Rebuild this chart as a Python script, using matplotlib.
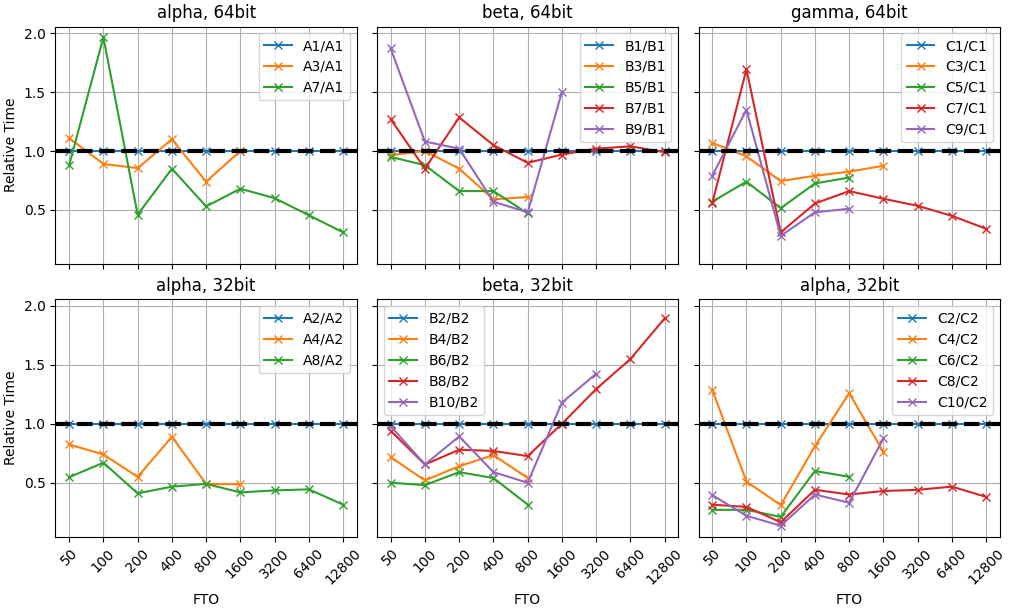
import numpy as np
import matplotlib.pyplot as plt

fto = ["50", "100", "200", "400", "800", "1600", "3200", "6400", "12800"]

# alpha, 64bit
a1 = [1.0] * 9
a3 = [1.11, 0.89, 0.855, 1.10, 0.74, 1.0]
a7 = [0.88, 1.965, 0.46, 0.85, 0.53, 0.68, 0.60, 0.455, 0.31]

# beta, 64bit
b1 = [1.0] * 9
b3 = [0.965, 1.0, 0.85, 0.59, 0.61]
b5 = [0.95, 0.88, 0.66, 0.66, 0.47]
b7 = [1.27, 0.85, 1.285, 1.05, 0.90, 0.97, 1.02, 1.04, 0.99]
b9 = [1.87, 1.08, 1.02, 0.57, 0.48, 1.50]

# gamma, 64bit
c1 = [1.0] * 9
c3 = [1.07, 0.955, 0.745, 0.79, 0.825, 0.875]
c5 = [0.57, 0.74, 0.515, 0.725, 0.775]
c7 = [0.555, 1.695, 0.31, 0.555, 0.66, 0.595, 0.535, 0.45, 0.34]
c9 = [0.79, 1.35, 0.28, 0.48, 0.51]

# alpha, 32bit
a2 = [1.0] * 9
a4 = [0.825, 0.74, 0.55, 0.89, 0.49, 0.487]
a8 = [0.547, 0.67, 0.41, 0.467, 0.49, 0.418, 0.435, 0.444, 0.314]

# beta, 32bit
b2 = [1.0] * 9
b4 = [0.717, 0.52, 0.64, 0.735, 0.54]
b6 = [0.50, 0.48, 0.59, 0.54, 0.315]
b8 = [0.94, 0.655, 0.78, 0.77, 0.726, 1.0, 1.295, 1.55, 1.895]
b10 = [0.98, 0.655, 0.893, 0.59, 0.50, 1.18, 1.425]

# second "alpha, 32bit" panel (C series)
c2 = [1.0] * 9
c4 = [1.29, 0.51, 0.31, 0.81, 1.26, 0.76]
c6 = [0.27, 0.27, 0.21, 0.60, 0.55]
c8 = [0.314, 0.295, 0.165, 0.44, 0.40, 0.43, 0.44, 0.467, 0.38]
c10 = [0.395, 0.22, 0.135, 0.40, 0.33, 0.876]

panels = [
    ("alpha, 64bit", [("A1/A1", a1), ("A3/A1", a3), ("A7/A1", a7)], "upper right"),
    ("beta, 64bit", [("B1/B1", b1), ("B3/B1", b3), ("B5/B1", b5), ("B7/B1", b7), ("B9/B1", b9)], "upper right"),
    ("gamma, 64bit", [("C1/C1", c1), ("C3/C1", c3), ("C5/C1", c5), ("C7/C1", c7), ("C9/C1", c9)], "upper right"),
    ("alpha, 32bit", [("A2/A2", a2), ("A4/A2", a4), ("A8/A2", a8)], "upper right"),
    ("beta, 32bit", [("B2/B2", b2), ("B4/B2", b4), ("B6/B2", b6), ("B8/B2", b8), ("B10/B2", b10)], "upper left"),
    ("alpha, 32bit", [("C2/C2", c2), ("C4/C2", c4), ("C6/C2", c6), ("C8/C2", c8), ("C10/C2", c10)], "upper right"),
]

fig, axes = plt.subplots(2, 3, figsize=(10.11, 6.11), dpi=100, sharex=True, sharey=True,
                         layout="constrained")

x = np.arange(len(fto))
for ax, (title, series, loc) in zip(axes.flat, panels):
    for label, vals in series:
        ax.plot(x[:len(vals)], vals, marker="x", label=label)
    ax.axhline(1.0, color="k", linestyle="--", linewidth=3)
    ax.set_title(title)
    ax.grid(True)
    ax.legend(loc=loc)

for ax in axes[:, 0]:
    ax.set_ylabel("Relative Time")
for ax in axes[1, :]:
    ax.set_xlabel("FTO")
    ax.set_xticks(x)
    ax.set_xticklabels(fto, rotation=45)

plt.savefig("out.png", dpi=100)
